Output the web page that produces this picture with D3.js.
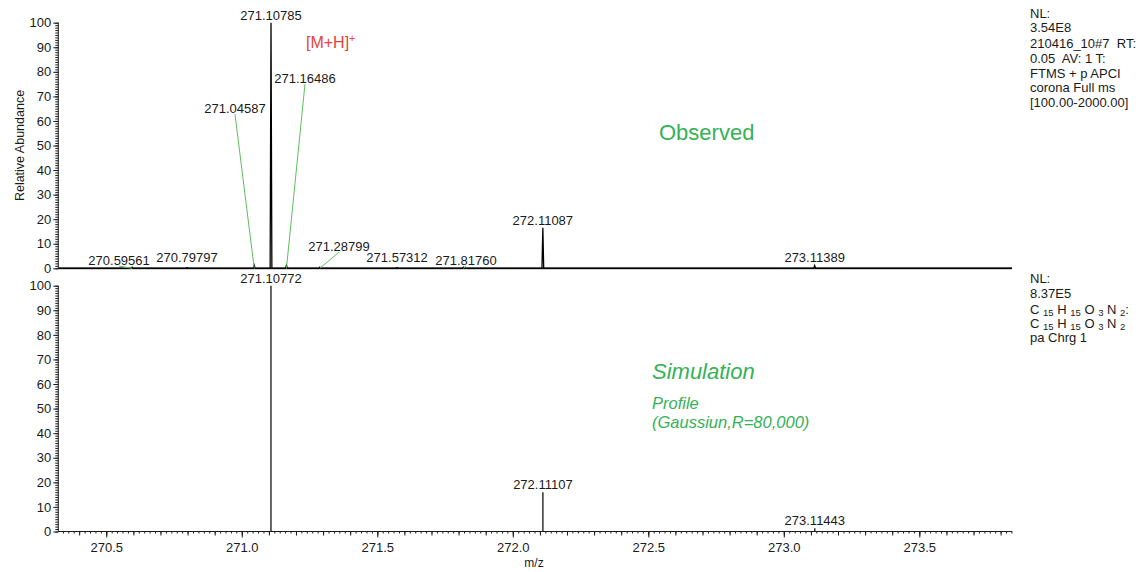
<!DOCTYPE html>
<html>
<script src="https://d3js.org/d3.v7.min.js"></script>

<head>
    <style>
        body {
            margin: 0;
            background: #fff;
            font-family: "Liberation Sans", Arial, Helvetica, sans-serif;
        }

        svg {
            display: block;
        }
    </style>
</head>

<body>
</body>
<script>
    const width = 1142,
        height = 572;

    // m/z window and tick values
    const mzDomain = [270.323, 273.842];
    const xTickValues = [270.5, 271.0, 271.5, 272.0, 272.5, 273.0, 273.5];
    const yTickValues = [0, 10, 20, 30, 40, 50, 60, 70, 80, 90, 100];

    // observed spectrum (profile peaks)
    const obsMz = [270.59561, 270.79797, 271.04587, 271.10785, 271.16486, 271.28799, 271.57312, 271.81760, 272.11087, 273.11389];
    const obsAbund = [0.4, 0.3, 1.2, 100, 1.2, 0.4, 0.3, 0.4, 16.5, 1.1];
    // labels moved off their peak, with a green leader line: [peak m/z, label m/z, label abundance]
    const obsLeaders = [
        [270.59561, 270.5472, 1.3],
        [271.04587, 270.9749, 63.2],
        [271.16486, 271.2332, 75.4],
        [271.28799, 271.3587, 7.0],
        [271.81760, 271.8273, 1.3]
    ];

    // simulated spectrum (sticks)
    const simMz = [271.10772, 272.11107, 273.11443];
    const simAbund = [100, 16.0, 1.3];

    const obsInfo = ["NL:", "3.54E8", "210416_10#7  RT:", "0.05  AV: 1 T:", "FTMS + p APCI", "corona Full ms", "[100.00-2000.00]"];
    const simInfo = ["NL:", "8.37E5"];
    const formulaParts = [["C", "15"], ["H", "15"], ["O", "3"], ["N", "2"]];

    const green = "#35b156",
        leaderGreen = "#5cbf5c",
        red = "#e8413c",
        ink = "#1a1a1a";

    const svg = d3.select("body").append("svg").attr("width", width).attr("height", height)
        .attr("font-family", '"Liberation Sans", Arial, sans-serif');

    const x = d3.scaleLinear().domain(mzDomain).range([58.3, 1012]);
    const yTop = d3.scaleLinear().domain([0, 100]).range([268.3, 22.7]);
    const yBot = d3.scaleLinear().domain([0, 100]).range([531.5, 285.7]);

    function yAxis(y) {
        const g = svg.append("g").attr("transform", `translate(${x.range()[0]},0)`);
        g.call(d3.axisLeft(y).tickValues(d3.range(0, 101, 1)).tickSize(3).tickFormat(""))
            .call(a => a.select(".domain").remove());
        g.selectAll(".tick line").attr("stroke", ink);
        const major = svg.append("g").attr("transform", `translate(${x.range()[0]},0)`)
            .call(d3.axisLeft(y).tickValues(yTickValues).tickSize(5).tickPadding(2).tickFormat(d3.format("d")));
        major.select(".domain").attr("stroke", ink).attr("d", `M0,${y(0)}V${y(100)}`);
        major.selectAll(".tick line").attr("stroke", ink);
        major.selectAll(".tick text").attr("font-size", 13).attr("fill", ink)
            .attr("font-family", '"Liberation Sans", Arial, sans-serif');
    }

    yAxis(yTop);
    yAxis(yBot);

    // top panel baseline
    svg.append("line")
        .attr("x1", x.range()[0]).attr("x2", x.range()[1])
        .attr("y1", yTop(0)).attr("y2", yTop(0))
        .attr("stroke", "#444").attr("stroke-width", 2);

    // observed profile: each peak drawn as a narrow triangle on the baseline
    const hw = 0.0032;
    const profile = [[mzDomain[0], 0]];
    obsMz.forEach((m, i) => {
        profile.push([m - hw, 0], [m, obsAbund[i]], [m + hw, 0]);
    });
    profile.push([mzDomain[1], 0]);
    svg.append("path")
        .datum(profile)
        .attr("fill", "none")
        .attr("stroke", "#000")
        .attr("stroke-width", 1.3)
        .attr("d", d3.line().x(d => x(d[0])).y(d => yTop(d[1])));

    // observed labels
    const leaderMap = new Map(obsLeaders.map(d => [d[0], d]));
    obsMz.forEach((m, i) => {
        const lead = leaderMap.get(m);
        let lx, ly;
        if (lead) {
            lx = x(lead[1]);
            ly = yTop(lead[2]);
            svg.append("line")
                .attr("x1", lx).attr("y1", ly + 1)
                .attr("x2", x(m)).attr("y2", yTop(0))
                .attr("stroke", leaderGreen).attr("stroke-width", 1);
        } else {
            lx = x(m);
            ly = yTop(Math.max(obsAbund[i], 1.3)) - 3;
        }
        svg.append("text")
            .attr("x", lx).attr("y", ly)
            .attr("text-anchor", "middle")
            .attr("font-size", 13)
            .attr("fill", ink)
            .text(m.toFixed(5));
    });

    // simulated sticks
    simMz.forEach((m, i) => {
        svg.append("line")
            .attr("x1", x(m)).attr("x2", x(m))
            .attr("y1", yBot(0)).attr("y2", yBot(simAbund[i]))
            .attr("stroke", "#000").attr("stroke-width", 1.2);
        svg.append("text")
            .attr("x", x(m)).attr("y", yBot(Math.max(simAbund[i], 1.3)) - 3)
            .attr("text-anchor", "middle")
            .attr("font-size", 13)
            .attr("fill", ink)
            .text(m.toFixed(5));
    });

    // bottom x axis: minor 0.02, medium 0.1, labelled 0.5
    const y0 = yBot(0);
    const minor = d3.range(Math.ceil(mzDomain[0] / 0.02), Math.floor(mzDomain[1] / 0.02) + 1).map(k => k * 0.02);
    const medium = d3.range(Math.ceil(mzDomain[0] / 0.1), Math.floor(mzDomain[1] / 0.1) + 1).map(k => k * 0.1);
    svg.append("g").attr("transform", `translate(0,${y0})`)
        .call(d3.axisBottom(x).tickValues(minor).tickSize(2).tickFormat(""))
        .call(a => a.select(".domain").remove());
    svg.append("g").attr("transform", `translate(0,${y0})`)
        .call(d3.axisBottom(x).tickValues(medium).tickSize(4).tickFormat(""))
        .call(a => a.select(".domain").remove());
    const xg = svg.append("g").attr("transform", `translate(0,${y0})`)
        .call(d3.axisBottom(x).tickValues(xTickValues).tickSize(6).tickPadding(5).tickFormat(d3.format(".1f")));
    xg.select(".domain").attr("stroke", ink).attr("d", `M${x.range()[0]},0H${x.range()[1]}`);
    xg.selectAll(".tick text").attr("font-size", 13).attr("fill", ink)
        .attr("font-family", '"Liberation Sans", Arial, sans-serif');
    svg.selectAll(".tick line").attr("stroke", ink);

    svg.append("text")
        .attr("x", 534).attr("y", 567)
        .attr("text-anchor", "middle")
        .attr("font-size", 12)
        .attr("fill", ink)
        .text("m/z");

    svg.append("text")
        .attr("transform", `translate(24,145.5) rotate(-90)`)
        .attr("text-anchor", "middle")
        .attr("font-size", 12.5)
        .attr("fill", ink)
        .text("Relative Abundance");

    // annotations
    const mh = svg.append("text")
        .attr("x", 306).attr("y", 48)
        .attr("font-size", 16)
        .attr("fill", red);
    mh.append("tspan").text("[M+H]");
    mh.append("tspan").attr("font-size", 10).attr("dy", -6).text("+");

    svg.append("text")
        .attr("x", 659).attr("y", 140)
        .attr("font-size", 22)
        .attr("fill", green)
        .text("Observed");

    svg.append("text")
        .attr("x", 652).attr("y", 379)
        .attr("font-size", 22)
        .attr("font-style", "italic")
        .attr("fill", green)
        .text("Simulation");
    svg.append("text")
        .attr("x", 652).attr("y", 409)
        .attr("font-size", 16.5)
        .attr("font-style", "italic")
        .attr("fill", green)
        .text("Profile");
    svg.append("text")
        .attr("x", 652).attr("y", 428)
        .attr("font-size", 16.5)
        .attr("font-style", "italic")
        .attr("fill", green)
        .text("(Gaussiun,R=80,000)");

    // scan info text on the right
    const infoY = [17.7, 31.7, 47.7, 62.7, 77.7, 91.7, 106.7];
    obsInfo.forEach((t, i) => {
        svg.append("text")
            .attr("x", 1030).attr("y", infoY[i])
            .attr("font-size", 13)
            .attr("fill", ink)
            .style("white-space", "pre")
            .text(t);
    });
    simInfo.forEach((t, i) => {
        svg.append("text")
            .attr("x", 1030).attr("y", 282.7 + i * 15)
            .attr("font-size", 13)
            .attr("fill", ink)
            .text(t);
    });

    function formula(yPos, tail) {
        const t = svg.append("text")
            .attr("x", 1030).attr("y", yPos)
            .attr("font-size", 13)
            .attr("fill", ink)
            .style("white-space", "pre");
        formulaParts.forEach(([el, n], i) => {
            t.append("tspan").attr("dy", i === 0 ? 0 : -1.5).text((i === 0 ? "" : " ") + el + " ");
            t.append("tspan").attr("font-size", 9.5).attr("dy", 1.5).text(n);
        });
        if (tail) t.append("tspan").attr("dy", -1.5).text(tail);
    }
    formula(314.2, ":");
    formula(328.2, "");
    svg.append("text")
        .attr("x", 1030).attr("y", 342)
        .attr("font-size", 13)
        .attr("fill", ink)
        .text("pa Chrg 1");
</script>

</html>
